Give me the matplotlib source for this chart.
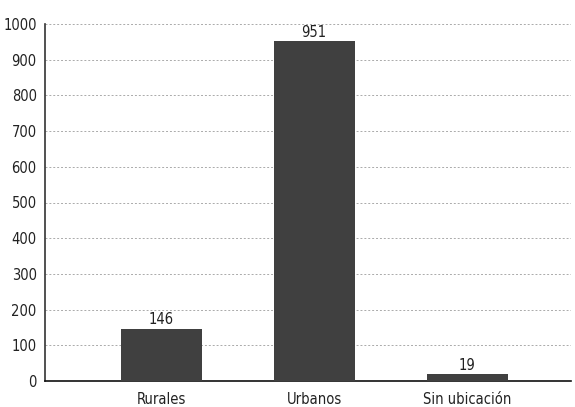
import matplotlib.pyplot as plt
from matplotlib import font_manager

categories = ['Rurales', 'Urbanos', 'Sin ubicación']
values = [146, 951, 19]
yticks = list(range(0, 1001, 100))

# pick a condensed face if one is installed
names = {f.name for f in font_manager.fontManager.ttflist}
narrow = [n for n in ['Liberation Sans Narrow', 'DejaVu Sans Condensed'] if n in names]
plt.rcParams['font.family'] = narrow + ['DejaVu Sans']
plt.rcParams['font.stretch'] = 'condensed'

fig = plt.figure(figsize=(5.75, 4.07), dpi=100)
ax = fig.add_axes([45 / 575, 26 / 407, 526 / 575, 357 / 407])

x = range(len(categories))
bars = ax.bar(x, values, width=0.53, color='#404040', zorder=3)
for b, v in zip(bars, values):
    ax.text(b.get_x() + b.get_width() / 2, v + 4, str(v), ha='center', va='bottom',
            fontsize=10.5, color='#222222')

ax.set_xlim(-0.76, 2.68)
ax.set_ylim(0, 1000)
ax.set_yticks(yticks)
ax.set_xticks(list(x))
ax.set_xticklabels(categories)
ax.tick_params(axis='both', length=0, labelsize=10.5, colors='#222222')
ax.tick_params(axis='x', pad=8)
ax.tick_params(axis='y', pad=6)
ax.yaxis.grid(True, linestyle=(0, (2, 2)), color='#aaaaaa', linewidth=0.7, zorder=0)
for s in ['top', 'right']:
    ax.spines[s].set_visible(False)
ax.spines['left'].set_color('#333333')
ax.spines['bottom'].set_color('#111111')
ax.spines['left'].set_linewidth(1.2)
ax.spines['bottom'].set_linewidth(1.2)

plt.savefig('out.png', dpi=100)
